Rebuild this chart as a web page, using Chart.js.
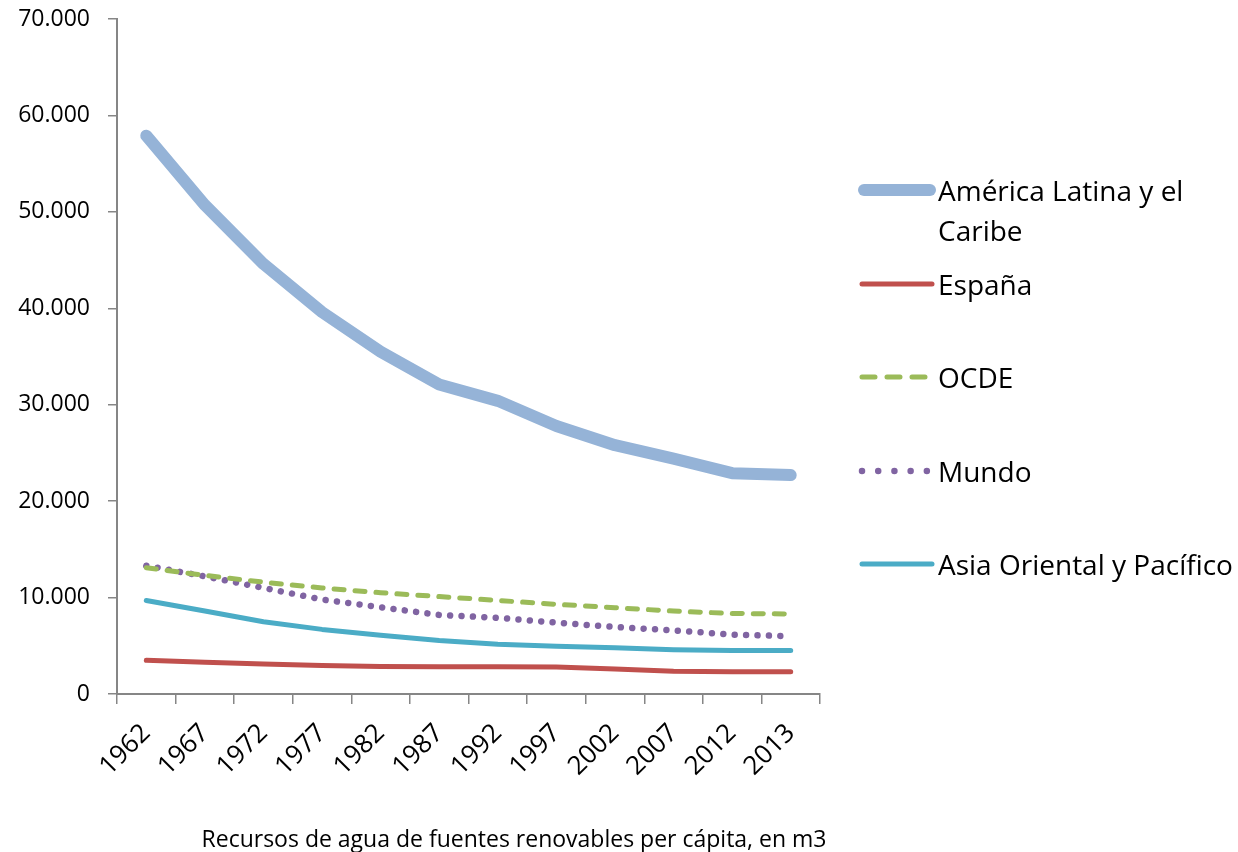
<!DOCTYPE html>
<html lang="es">
<head>
    <meta charset="UTF-8">
    <title>Recursos de agua per cápita</title>
    <script src="https://cdn.jsdelivr.net/npm/chart.js"></script>
    <style>
        body { margin: 0; background: #fff; font-family: "Open Sans", sans-serif; }
        #wrap { position: relative; width: 1238px; height: 852px; }
        #legend { position: absolute; left: 0; top: 0; }
        .item { position: absolute; left: 856px; width: 382px; }
        .item svg { position: absolute; left: 0; top: 0; }
        .item span { position: absolute; left: 82px; width: 300px; font-size: 28px; line-height: 40px; color: #000; }
        #caption { position: absolute; left: 0; width: 1028px; top: 822px; text-align: center; font-size: 23px; line-height: 32px; color: #000; }
    </style>
</head>
<body>
<div id="wrap">
    <canvas id="chart"></canvas>
    <div id="legend"></div>
    <div id="caption">Recursos de agua de fuentes renovables per cápita, en m3</div>
</div>

<script>
    // Data (m3 per person)
    const years = ['1962', '1967', '1972', '1977', '1982', '1987', '1992', '1997', '2002', '2007', '2012', '2013'];
    const americaLatina = [57900, 50700, 44600, 39600, 35500, 32100, 30400, 27800, 25800, 24400, 22900, 22700];
    const espana = [3500, 3300, 3100, 2950, 2850, 2830, 2820, 2800, 2600, 2350, 2300, 2300];
    const ocde = [13100, 12300, 11600, 11000, 10500, 10100, 9700, 9300, 8950, 8600, 8350, 8300];
    const mundo = [13300, 12200, 11000, 9800, 9000, 8200, 7900, 7400, 6950, 6600, 6150, 6000];
    const asia = [9700, 8600, 7500, 6700, 6100, 5550, 5150, 4950, 4800, 4600, 4500, 4500];
    const seriesNames = ['América Latina y el Caribe', 'España', 'OCDE', 'Mundo', 'Asia Oriental y Pacífico'];

    const axisGrey = '#868686';

    const series = [
        { data: americaLatina, color: '#95B3D7', width: 12, dash: [] },
        { data: espana, color: '#C0504D', width: 5, dash: [] },
        { data: ocde, color: '#9BBB59', width: 5, dash: [10, 11] },
        { data: mundo, color: '#8064A2', width: 6.5, dash: [0.01, 11.4] },
        { data: asia, color: '#4BACC6', width: 5, dash: [] }
    ];

    const thousands = v => String(v).replace(/\B(?=(\d{3})+(?!\d))/g, '.');

    new Chart(document.getElementById('chart'), {
        type: 'line',
        data: {
            labels: years,
            datasets: series.map((s, i) => ({
                label: seriesNames[i],
                data: s.data,
                borderColor: s.color,
                backgroundColor: s.color,
                borderWidth: s.width,
                borderDash: s.dash,
                borderCapStyle: 'round',
                borderJoinStyle: 'round',
                pointRadius: 0,
                tension: 0,
                fill: false
            }))
        },
        options: {
            responsive: true,
            maintainAspectRatio: false,
            animation: false,
            layout: { padding: { top: 19, right: 418, bottom: 0, left: 0 } },
            plugins: {
                legend: { display: false },
                tooltip: { enabled: false }
            },
            scales: {
                x: {
                    offset: true,
                    afterFit: scale => { scale.height = 158; },
                    grid: {
                        offset: true,
                        drawOnChartArea: false,
                        color: axisGrey,
                        lineWidth: 1.5,
                        tickLength: 10
                    },
                    border: { color: axisGrey, width: 2 },
                    ticks: {
                        autoSkip: false,
                        maxRotation: 45,
                        minRotation: 45,
                        padding: 14,
                        color: '#000',
                        font: { family: 'Open Sans', size: 26 }
                    }
                },
                y: {
                    min: 0,
                    max: 70000,
                    afterFit: scale => {
                        scale.width = 117;
                        // keep the top tick at the layout padding, not pushed down by label padding
                        scale.paddingTop = 0;
                    },
                    grid: {
                        drawOnChartArea: false,
                        color: axisGrey,
                        lineWidth: 1.5,
                        tickLength: 9
                    },
                    border: { color: axisGrey, width: 2 },
                    ticks: {
                        stepSize: 10000,
                        padding: 18,
                        color: '#000',
                        font: { family: 'Open Sans', size: 23 },
                        callback: v => thousands(v)
                    }
                }
            }
        }
    });

    // Legend on the right, built from the same series
    const legendTops = [170, 264, 357, 451, 544];
    const legend = document.getElementById('legend');
    series.forEach((s, i) => {
        const item = document.createElement('div');
        item.className = 'item';
        item.style.top = legendTops[i] + 'px';
        const x1 = s.width > 8 ? 8 : 6;
        const x2 = s.width > 8 ? 74 : 76;
        item.innerHTML =
            '<svg width="82" height="40"><line x1="' + x1 + '" y1="20" x2="' + x2 + '" y2="20" stroke="' + s.color +
            '" stroke-width="' + s.width + '" stroke-linecap="round"' +
            (s.dash.length ? ' stroke-dasharray="' + (i === 2 ? '13 12' : '0.01 16.2') + '"' : '') +
            '/></svg><span>' + seriesNames[i] + '</span>';
        legend.appendChild(item);
    });
</script>
</body>
</html>
